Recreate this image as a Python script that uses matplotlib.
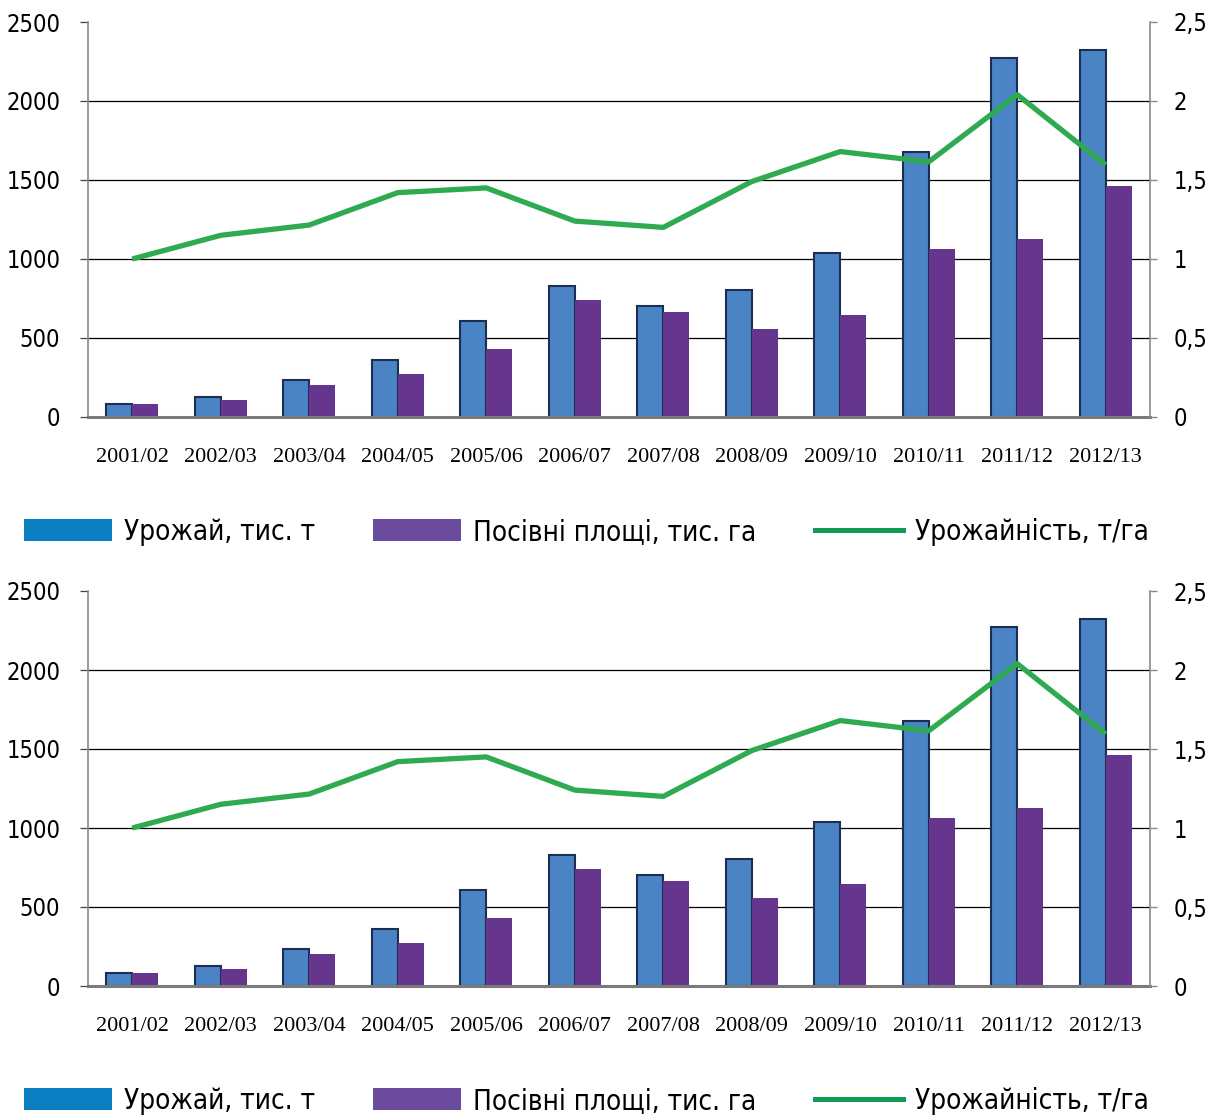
import matplotlib
matplotlib.use("Agg")
import matplotlib.pyplot as plt
from matplotlib.patches import Patch
from matplotlib.lines import Line2D
import numpy as np

plt.rcParams['font.family'] = ['DejaVu Sans']
plt.rcParams['font.stretch'] = 'condensed'

seasons = ['2001/02', '2002/03', '2003/04', '2004/05', '2005/06', '2006/07',
           '2007/08', '2008/09', '2009/10', '2010/11', '2011/12', '2012/13']
harvest = [85, 125, 235, 360, 610, 830, 700, 805, 1040, 1680, 2270, 2320]
area = [80, 110, 205, 275, 430, 740, 665, 560, 645, 1065, 1125, 1465]
yield_t_ha = [1.0, 1.15, 1.215, 1.42, 1.45, 1.24, 1.20, 1.49, 1.68, 1.615, 2.04, 1.595]

left_ticks = [0, 500, 1000, 1500, 2000, 2500]
right_ticks = [0, 0.5, 1, 1.5, 2, 2.5]
right_labels = ['0', '0,5', '1', '1,5', '2', '2,5']
legend_labels = ['Урожай, тис. т', 'Посівні площі, тис. га', 'Урожайність, т/га']

BAR_BLUE = '#4a84c4'
BAR_EDGE = '#1c2f52'
BAR_PURPLE = '#66368f'
LINE_GREEN = '#2eaa50'
AXIS_GRAY = '#8a8a8a'

W, H = 1214, 1118
fig = plt.figure(figsize=(W / 100, H / 100), dpi=100)


def draw_panel(top_px, bottom_px, legend_y_px):
    left_px, right_px = 88, 1150
    ax = fig.add_axes([left_px / W, 1 - bottom_px / H,
                       (right_px - left_px) / W, (bottom_px - top_px) / H])
    x = np.arange(len(seasons))
    w = 0.294
    ax.bar(x - w / 2, harvest, width=w, color=BAR_BLUE, edgecolor=BAR_EDGE,
           linewidth=1.5, zorder=2)
    ax.bar(x + w / 2, area, width=w, color=BAR_PURPLE, edgecolor='none', zorder=2)
    ax.set_xlim(-0.5, 11.5)
    ax.set_ylim(0, 2500)
    ax.set_yticks(left_ticks)
    ax.set_yticklabels([str(t) for t in left_ticks], fontsize=17)
    ax.set_xticks(x)
    ax.set_xticklabels(seasons, fontsize=16, family=['Liberation Serif', 'DejaVu Serif'])
    for yv in left_ticks[1:-1]:
        ax.axhline(yv, color='black', linewidth=0.9, zorder=1)
    ax.tick_params(axis='x', length=0, pad=22)
    ax.tick_params(axis='y', length=6, width=0.9, color='#444444', pad=14, direction='out')
    for s in ['top', 'right']:
        ax.spines[s].set_visible(False)
    ax.spines['left'].set_color(AXIS_GRAY)
    ax.spines['left'].set_linewidth(1.2)
    ax.spines['bottom'].set_color('#7a7a7a')
    ax.spines['bottom'].set_linewidth(2.2)

    ax2 = ax.twinx()
    ax2.plot(x, yield_t_ha, color=LINE_GREEN, linewidth=3.8, solid_capstyle='butt',
             solid_joinstyle='round', zorder=3)
    ax2.set_ylim(0, 2.5)
    ax2.set_yticks(right_ticks)
    ax2.set_yticklabels(right_labels, fontsize=17)
    ax2.tick_params(axis='y', length=5, width=1.0, color=AXIS_GRAY, pad=12, direction='out')
    for s in ['top', 'left', 'bottom']:
        ax2.spines[s].set_visible(False)
    ax2.spines['right'].set_color(AXIS_GRAY)
    ax2.spines['right'].set_linewidth(1.2)

    handles = [Patch(facecolor='#0b7dc1', edgecolor='none'),
               Patch(facecolor='#6a4b9e', edgecolor='none'),
               Line2D([0], [0], color='#139a55', linewidth=3.6)]
    fig.legend(handles, legend_labels, loc='center left',
               bbox_to_anchor=(24 / W, 1 - legend_y_px / H), ncol=3, frameon=False,
               fontsize=20, handlelength=3.15, handleheight=0.85, handletextpad=0.45,
               columnspacing=2.1, borderaxespad=0, borderpad=0)


draw_panel(22, 417, 532)
draw_panel(591, 986, 1101)

fig.savefig('out.png', dpi=100, facecolor='white')
